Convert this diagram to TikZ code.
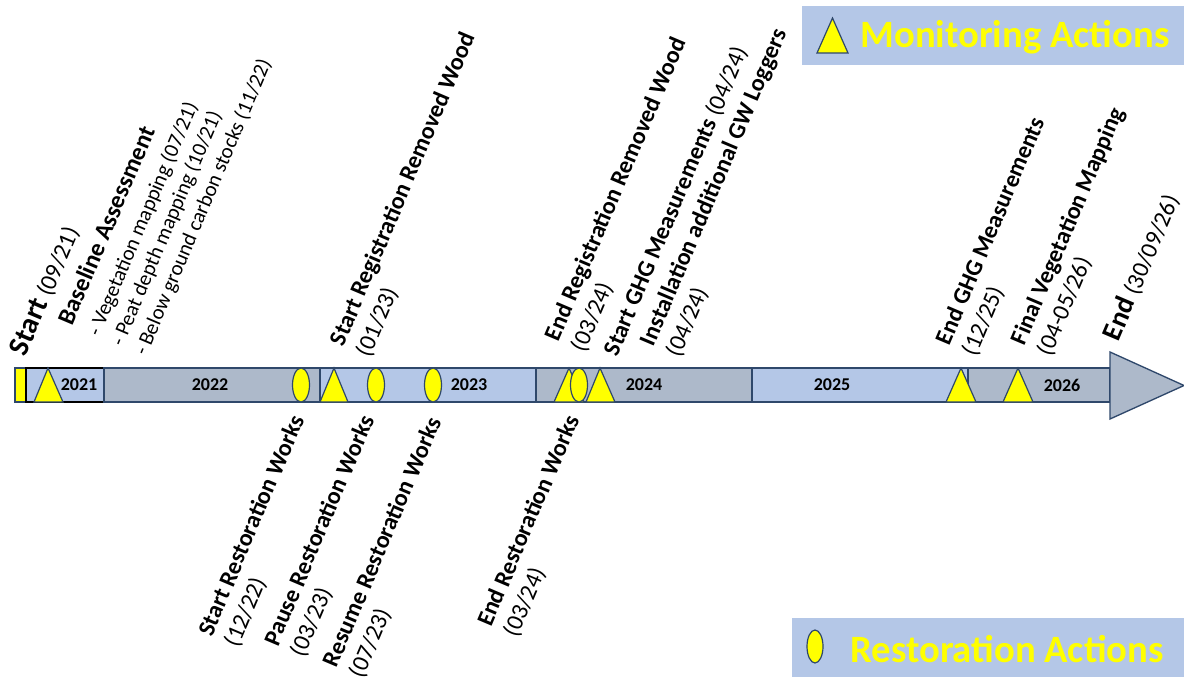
\documentclass[tikz,border=0pt]{standalone}
\usepackage{fontspec}
\setmainfont{Carlito}
\definecolor{barline}{RGB}{47,72,107}
\definecolor{barlight}{RGB}{180,199,231}
\definecolor{bargray}{RGB}{173,185,202}
\definecolor{markyellow}{RGB}{255,255,0}

\tikzset{every picture/.style={line width=0.75pt}}
\tikzset{
  lightyear/.style={draw=barline, fill=barlight, line width=1pt},
  grayyear/.style={draw=barline, fill=bargray, line width=1pt},
  monitor/.style={draw=barline, fill=markyellow, line width=0.9pt},
  restore/.style={draw=barline, fill=markyellow, line width=0.9pt},
  yearlabel/.style={inner sep=0pt, font=\fontsize{13.5}{16}\selectfont\bfseries},
  toplabel/.style={anchor=south west, inner sep=0pt, rotate=67, align=left, font=\fontsize{18}{21}\selectfont},
  bottomlabel/.style={anchor=north east, inner sep=0pt, rotate=67, align=left, font=\fontsize{18}{21}\selectfont},
  legendbox/.style={fill=barlight, draw=none},
  legendtext/.style={anchor=base west, inner sep=0pt, text=markyellow, font=\fontsize{29}{34}\selectfont\bfseries}
}

\begin{document}
\begin{tikzpicture}[x=0.75pt,y=0.75pt,yscale=-1,xscale=1]
            \useasboundingbox (0,0) rectangle (1184,677);

            %Shape: Rectangle [start marker]
            \draw [fill=markyellow, draw=barline, line width=1pt] (15,368) rectangle (26,402);
            %Shape: Rectangle [years]
            \draw [fill=barlight, draw=black, line width=1pt] (26,368) rectangle (104,402);
            \draw [grayyear] (104,368) rectangle (320,402);
            \draw [lightyear] (320,368) rectangle (536,402);
            \draw [grayyear] (536,368) rectangle (752,402);
            \draw [lightyear] (752,368) rectangle (968,402);
            \draw [grayyear] (968,368) rectangle (1110,402);
            %Shape: Triangle [arrow head]
            \draw [grayyear] (1110,352) -- (1184,385.5) -- (1110,419) -- cycle;

            % Text Node
            \node [yearlabel] (y2021) at (79,385) {2021};
            % Text Node
            \node [yearlabel] (y2022) at (210,385) {2022};
            % Text Node
            \node [yearlabel] (y2023) at (469,385) {2023};
            % Text Node
            \node [yearlabel] (y2024) at (644,385) {2024};
            % Text Node
            \node [yearlabel] (y2025) at (832,385) {2025};
            % Text Node
            \node [yearlabel] (y2026) at (1062,385) {2026};

            %Shape: Triangle [monitoring]
            \draw [monitor] (34,402) -- (48,368) -- (63,402) -- cycle;
            %Shape: Ellipse [restoration]
            \draw [restore] (301,385) ellipse (8.5 and 17);
            %Shape: Triangle [monitoring]
            \draw [monitor] (320,402) -- (334,368) -- (348,402) -- cycle;
            %Shape: Ellipse [restoration]
            \draw [restore] (376,385) ellipse (8.5 and 17);
            %Shape: Ellipse [restoration]
            \draw [restore] (433,385) ellipse (8.5 and 17);
            %Shape: Triangle [monitoring]
            \draw [monitor] (554,402) -- (569,368) -- (584,402) -- cycle;
            %Shape: Ellipse [restoration]
            \draw [restore] (579,385) ellipse (8.5 and 17);
            %Shape: Triangle [monitoring]
            \draw [monitor] (586,402) -- (600,368) -- (615,402) -- cycle;
            %Shape: Triangle [monitoring]
            \draw [monitor] (946,402) -- (961,368) -- (976,402) -- cycle;
            %Shape: Triangle [monitoring]
            \draw [monitor] (1003,402) -- (1018,368) -- (1033,402) -- cycle;

            % Text Node
            \node [toplabel] (start) at (29,359) {{\fontsize{22}{26}\selectfont\bfseries Start} (09/21)};
            % Text Node
            \node [toplabel, font=\fontsize{18.5}{22}\selectfont\bfseries] (baseline) at (73,327) {Baseline Assessment};
            % Text Node
            \node [toplabel, font=\fontsize{15.8}{19}\selectfont] (baselist) at (150,359) {- Vegetation mapping (07/21)\\- Peat depth mapping (10/21)\\- Below ground carbon stocks (11/22)};
            % Text Node
            \node [toplabel] (startreg) at (373,360) {{\bfseries Start Registration Removed Wood}\\(01/23)};
            % Text Node
            \node [toplabel] (endreg) at (588,355) {{\bfseries End Registration Removed Wood}\\(03/24)};
            % Text Node
            \node [toplabel] (startghg) at (621,359) {{\bfseries Start GHG Measurements} (04/24)};
            % Text Node
            \node [toplabel] (loggers) at (683,360) {{\bfseries Installation additional GW Loggers}\\(04/24)};
            % Text Node
            \node [toplabel] (endghg) at (979,359) {{\bfseries End GHG Measurements}\\(12/25)};
            % Text Node
            \node [toplabel] (finalveg) at (1054,359) {{\bfseries Final Vegetation Mapping}\\(04-05/26)};
            % Text Node
            \node [toplabel] (finish) at (1122,344) {{\fontsize{21}{25}\selectfont\bfseries End} (30/09/26)};

            % Text Node
            \node [bottomlabel] (startrest) at (289,412) {{\bfseries Start Restoration Works}\\(12/22)};
            % Text Node
            \node [bottomlabel] (pauserest) at (359,412) {{\bfseries Pause Restoration Works}\\(03/23)};
            % Text Node
            \node [bottomlabel] (resumerest) at (426,414) {{\bfseries Resume Restoration Works}\\(07/23)};
            % Text Node
            \node [bottomlabel] (endrest) at (564,412) {{\bfseries End Restoration Works}\\(03/24)};

            %Shape: Rectangle [legend]
            \draw [legendbox] (802,6) rectangle (1184,65);
            \draw [monitor] (817,53) -- (832.5,18) -- (848,53) -- cycle;
            % Text Node
            \node [legendtext] (monlegend) at (860,48) {Monitoring Actions};
            %Shape: Rectangle [legend]
            \draw [legendbox] (792,618) rectangle (1184,677);
            \draw [restore] (815,646.5) ellipse (8 and 16.5);
            % Text Node
            \node [legendtext] (reslegend) at (850,662) {Restoration Actions};

\end{tikzpicture}
\end{document}
